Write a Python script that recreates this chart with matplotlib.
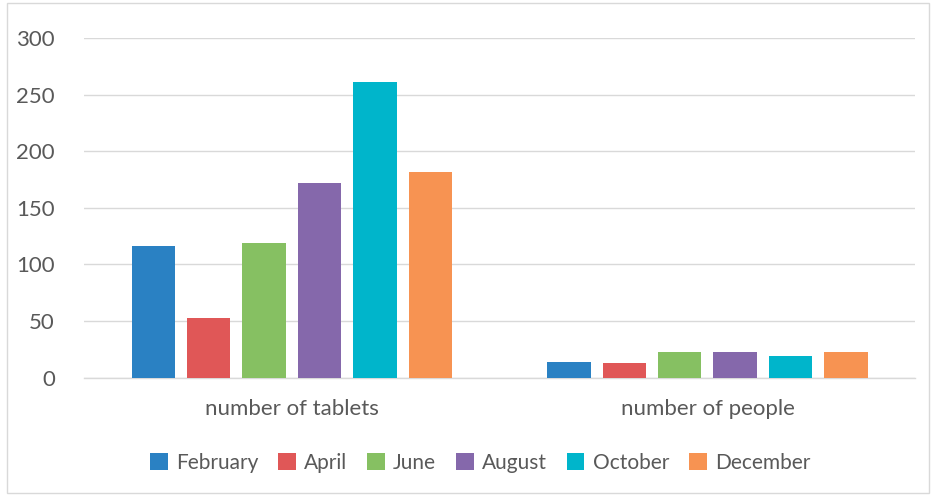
import matplotlib.pyplot as plt
import matplotlib.patches as patches
import numpy as np

plt.rcParams['font.family'] = ['Lato', 'DejaVu Sans']

# chart data
categories = ["number of tablets", "number of people"]
months = ["February", "April", "June", "August", "October", "December"]
values = {
    "February": [116, 14],
    "April": [53, 13],
    "June": [119, 23],
    "August": [172, 23],
    "October": [261, 19],
    "December": [182, 23],
}
colors = ["#2A81C3", "#E05757", "#86C062", "#8568AB", "#00B5CB", "#F79352"]

fig = plt.figure(figsize=(9.33, 4.95), dpi=100)
ax = fig.add_axes([0.090, 0.237, 0.891, 0.686])

x = np.arange(len(categories))
pitch = 0.1333
width = 0.1045
for i, month in enumerate(months):
    offset = (i - 2.5) * pitch
    ax.bar(x + offset, values[month], width, color=colors[i], label=month, zorder=3)

ax.set_xlim(-0.5, 1.5)
ax.set_ylim(0, 300)
ax.set_yticks(range(0, 301, 50))
ax.yaxis.grid(True, color="#D9D9D9", linewidth=1, zorder=0)
for s in ["top", "right", "left"]:
    ax.spines[s].set_visible(False)
ax.spines["bottom"].set_color("#D9D9D9")
ax.spines["bottom"].set_linewidth(1)
ax.tick_params(axis="y", length=0, pad=21, labelsize=16, labelcolor="#595959")
ax.tick_params(axis="x", length=0, pad=15, labelsize=16, labelcolor="#595959")
ax.set_xticks(x)
ax.set_xticklabels(categories)

leg = ax.legend(loc="center", bbox_to_anchor=(0.4765, -0.25), ncol=6, frameon=False,
                fontsize=15, handlelength=0.85, handleheight=0.85, handletextpad=0.4,
                columnspacing=0.95, labelcolor="#595959")

# figure border
fig.patches.append(patches.Rectangle((0.008, 0.004), 0.988, 0.99, transform=fig.transFigure,
                                     fill=False, edgecolor="#D9D9D9", linewidth=1))

fig.savefig("out.png", dpi=100)
